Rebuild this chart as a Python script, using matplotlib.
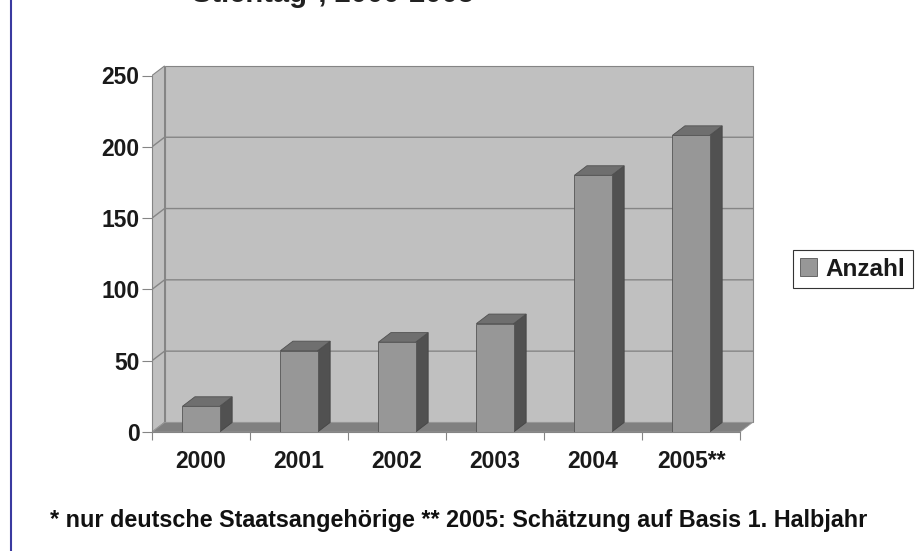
import matplotlib
matplotlib.use("Agg")
import matplotlib.pyplot as plt
from matplotlib.patches import Polygon, Rectangle
from matplotlib.lines import Line2D

plt.rcParams["font.family"] = ["Liberation Sans", "DejaVu Sans"]
plt.rcParams["font.weight"] = "bold"

# data
years = ["2000", "2001", "2002", "2003", "2004", "2005**"]
anzahl = [18, 57, 63, 76, 180, 208]
y_ticks = [0, 50, 100, 150, 200, 250]
series_label = "Anzahl"
title = "Stichtag*, 2000-2005"
footnote = "* nur deutsche Staatsangehörige ** 2005: Schätzung auf Basis 1. Halbjahr"

W, H = 916, 551
fig = plt.figure(figsize=(W / 100, H / 100), dpi=100)

# pseudo-3d depth in data units
dx, dy = 0.128, 6.7
bar_w = 0.38
xmin, xmax = -0.5, 5.65
ymax = 257.5
px_x, px_y = 98.0, 1.426

ax = fig.add_axes([152 / W, (H - 432) / H,
                   (xmax - xmin) * px_x / W, ymax * px_y / H])
ax.set_xlim(xmin, xmax)
ax.set_ylim(0, ymax)
ax.patch.set_visible(False)

wall = "#c0c0c0"
grid_c = "#858585"
top_v = y_ticks[-1]
n = len(years)
right = n - 0.5

# left side wall and back wall
ax.add_patch(Polygon([(xmin, 0), (xmin + dx, dy), (xmin + dx, top_v + dy), (xmin, top_v)],
                     closed=True, facecolor=wall, edgecolor=grid_c, lw=0.8, zorder=0))
ax.add_patch(Rectangle((xmin + dx, dy), right - xmin, top_v, facecolor=wall,
                       edgecolor=grid_c, lw=0.8, zorder=0))
for v in y_ticks[1:-1]:
    ax.plot([xmin, xmin + dx, right + dx], [v, v + dy, v + dy], color=grid_c, lw=1.0, zorder=1)

# floor
ax.add_patch(Polygon([(xmin, 0), (right, 0), (right + dx, dy), (xmin + dx, dy)],
                     closed=True, facecolor="#808080", edgecolor="#9a9a9a", lw=0.6, zorder=1))

# bars
xs = list(range(n))
bars = ax.bar(xs, anzahl, width=bar_w, color="#979797", edgecolor="#555555",
              linewidth=0.6, zorder=4, label=series_label)
for x, v in zip(xs, anzahl):
    r = x + bar_w / 2
    l = x - bar_w / 2
    ax.add_patch(Polygon([(r, 0), (r + dx, dy), (r + dx, v + dy), (r, v)], closed=True,
                         facecolor="#515151", edgecolor="#454545", lw=0.6, zorder=3))
    ax.add_patch(Polygon([(l, v), (r, v), (r + dx, v + dy), (l + dx, v + dy)], closed=True,
                         facecolor="#6f6f6f", edgecolor="#505050", lw=0.6, zorder=3))

# axes styling
for s in ["top", "right"]:
    ax.spines[s].set_visible(False)
ax.spines["left"].set_bounds(0, top_v)
ax.spines["bottom"].set_bounds(xmin, right)
ax.spines["left"].set_color(grid_c)
ax.spines["bottom"].set_color(grid_c)
ax.set_yticks(y_ticks)
ax.set_yticklabels([str(t) for t in y_ticks])
ax.tick_params(axis="y", length=7, color=grid_c, pad=2, labelsize=16.5, labelcolor="#1a1a1a")
ax.set_xticks([i - 0.5 for i in range(n + 1)])
ax.set_xticklabels([])
ax.set_xticks(xs, minor=True)
ax.set_xticklabels(years, minor=True)
ax.tick_params(axis="x", which="major", length=6, color=grid_c)
ax.tick_params(axis="x", which="minor", length=0, pad=13, labelsize=16.5, labelcolor="#1a1a1a")

leg = ax.legend(handles=[bars], labels=[series_label], loc="center",
                bbox_to_anchor=(853 / W, 1 - 269 / H), bbox_transform=fig.transFigure,
                fancybox=False, edgecolor="#333333", framealpha=1, borderpad=0.3,
                handlelength=0.7, handleheight=0.7, handletextpad=0.35,
                prop={"weight": "bold", "size": 17.5})
leg.get_frame().set_linewidth(0.8)
for t in leg.get_texts():
    t.set_color("#1a1a1a")

# title is cut off at the top edge in the original
fig.text(192 / W, 1 - 2.5 / H, title, fontsize=21, fontweight="bold", ha="left",
         va="baseline", color="#222222")
fig.text(50 / W, 1 - 520 / H, footnote, fontsize=16.8, fontweight="bold", ha="left",
         va="center", color="#111111")

# blue frame line on the left
fig.add_artist(Line2D([11 / W, 11 / W], [0, 1], transform=fig.transFigure,
                      color="#3a3aa0", lw=1.5))

fig.savefig("out.png", dpi=100)
